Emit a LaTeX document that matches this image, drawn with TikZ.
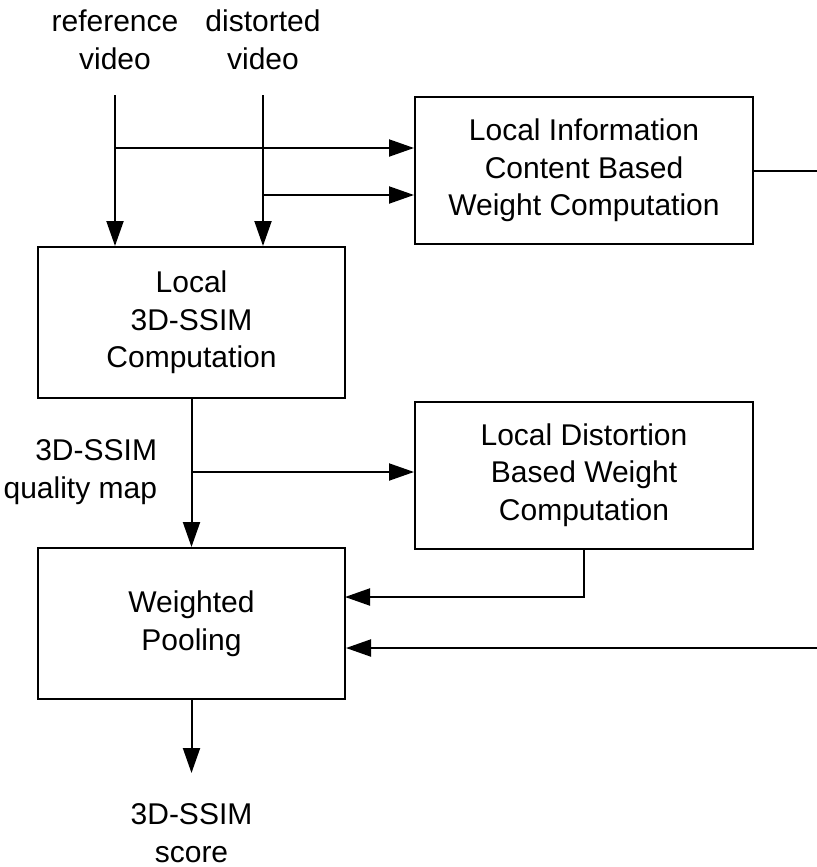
\documentclass[tikz,border=0pt]{standalone}
\usepackage{fontspec}
\setmainfont{Liberation Sans}
\usepackage{tikz}
\usetikzlibrary{arrows.meta}
\tikzset{
    tnode/.style = {align=center, inner sep=0pt, text centered, font=\fontsize{15}{18.75}\selectfont},
    block/.style = {tnode, rectangle, draw=black, line width=1pt},
    wide_block/.style = {block, minimum width=169pt, minimum height=73.5pt},
    narrow_block/.style = {block, minimum width=153.5pt, minimum height=75.5pt}
}

\begin{document}
\begin{tikzpicture}[->,>={Triangle[length=12.5pt,width=8.5pt]}, line width=1pt, x=0.5pt, y=-0.5pt]
    \useasboundingbox (0,0) rectangle (817,867);
    % inputs
    \node [tnode] (refv) at (115,40) {reference\\video};
    \node [tnode] (disv) at (263,40) {distorted\\video};
    \coordinate (rin) at (115,95);
    \coordinate (din) at (263,95);
    % blocks
    \node [wide_block] (linfo) at (584,170.5) {Local Information\\Content Based\\Weight Computation};
    \node [narrow_block] (lssim) at (191.5,322.5) {Local\\3D-SSIM\\Computation};
    \node [wide_block] (ldist) at (584,475) {Local Distortion\\Based Weight\\Computation};
    \node [narrow_block] (pool) at (191.5,623.5) {Weighted\\Pooling};
    % labels
    \node [tnode, align=right, anchor=east] (qmap) at (158,472) {3D-SSIM\\quality map};
    \node [tnode] (score) at (191.5,833) {3D-SSIM\\score};
    % branch points
    \coordinate (rbr) at (115,148);
    \coordinate (dbr) at (263,195);
    \coordinate (qbr) at (191.5,472);
    \coordinate (outa) at (817,170.5);
    \coordinate (ina) at (817,648);
    \coordinate (pin) at (345,597);
    \coordinate (sout) at (191.5,773);
    % connectors
    \draw (rin) -- (rin |- lssim.north);
    \draw (din) -- (din |- lssim.north);
    \draw (rbr) -- (rbr -| linfo.west);
    \draw (dbr) -- (dbr -| linfo.west);
    \draw [-] (linfo.east) -- (outa);
    \draw (ina) -- (ina -| pool.east);
    \draw (lssim.south) -- (pool.north);
    \draw (qbr) -- (qbr -| ldist.west);
    \draw (ldist.south) |- (pin);
    \draw (pool.south) -- (sout);
\end{tikzpicture}
\end{document}
